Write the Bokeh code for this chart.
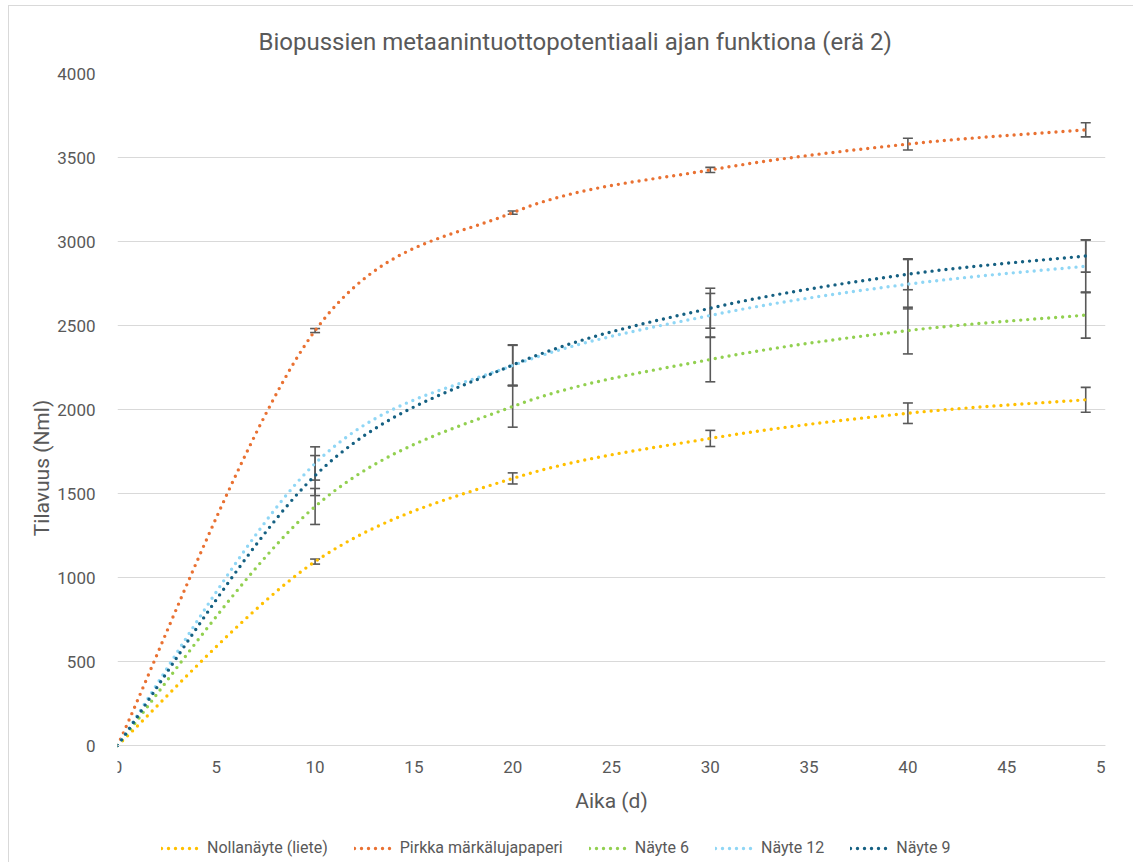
import numpy as np
from bokeh.plotting import figure
from bokeh.models import (ColumnDataSource, Whisker, TeeHead, Legend, LegendItem,
                          Title, FixedTicker, Range1d)
from bokeh.embed import file_html
from bokeh.resources import INLINE

# Measurement days
days = [0, 10, 20, 30, 40, 49]

# Cumulative methane volume (Nml) and standard deviations per sample
nolla = [0, 1095, 1590, 1828, 1978, 2058]
nolla_sd = [0, 15, 33, 48, 61, 74]

pirkka = [0, 2470, 3172, 3426, 3580, 3665]
pirkka_sd = [0, 12, 10, 15, 35, 42]

nayte6 = [0, 1423, 2018, 2298, 2470, 2562]
nayte6_sd = [0, 107, 123, 133, 139, 137]

nayte12 = [0, 1679, 2262, 2560, 2746, 2853]
nayte12_sd = [0, 99, 120, 131, 147, 157]

nayte9 = [0, 1607, 2265, 2603, 2805, 2914]
nayte9_sd = [0, 119, 120, 119, 92, 96]

series = [
    ("Nollanäyte (liete)", nolla, nolla_sd, "#FFC000"),
    ("Pirkka märkälujapaperi", pirkka, pirkka_sd, "#E97132"),
    ("Näyte 6", nayte6, nayte6_sd, "#92D050"),
    ("Näyte 12", nayte12, nayte12_sd, "#8FD6F5"),
    ("Näyte 9", nayte9, nayte9_sd, "#156082"),
]

TEXT = "#595959"
FONT = "Roboto"


def smooth(xs, ys, n=40):
    """Catmull-Rom style smoothed path through the points (like a smoothed line chart)."""
    pts = np.column_stack([xs, ys]).astype(float)
    out = []
    for i in range(len(pts) - 1):
        p0 = pts[i - 1] if i > 0 else pts[i]
        p1 = pts[i]
        p2 = pts[i + 1]
        p3 = pts[i + 2] if i + 2 < len(pts) else pts[i + 1]
        c1 = p1 + (p2 - p0) / 6.0
        c2 = p2 - (p3 - p1) / 6.0
        t = np.linspace(0, 1, n, endpoint=(i == len(pts) - 2))[:, None]
        seg = ((1 - t) ** 3) * p1 + 3 * ((1 - t) ** 2) * t * c1 + 3 * (1 - t) * t ** 2 * c2 + t ** 3 * p2
        out.append(seg)
    arr = np.vstack(out)
    return arr[:, 0], arr[:, 1]


# The frame reaches down to the legend row; the x axis sits at y = 0 inside it.
p = figure(frame_width=988, frame_height=789, output_backend="svg", toolbar_location=None,
           x_range=Range1d(0, 50), y_range=Range1d(-696, 4000),
           min_border_left=108, min_border_right=28, min_border_top=67, min_border_bottom=0)
p.margin = (5, 0, 0, 8)
p.styles = {"border-top": "1px solid #d9d9d9", "border-left": "1px solid #d9d9d9",
            "border-right": "1px solid #d9d9d9"}
p.outline_line_color = None
p.background_fill_color = "white"

p.add_layout(Title(text="Biopussien metaanintuottopotentiaali ajan funktiona (erä 2)",
                   align="left", offset=141, text_font=FONT, text_font_size="24px",
                   text_font_style="normal", text_color=TEXT, standoff=35), "above")

items = []
for name, ys, sd, color in series:
    sx, sy = smooth(days, ys)
    r = p.line(sx, sy, line_color=color, line_width=3.4, line_dash="0 7",
               line_cap="round")
    items.append(LegendItem(label=name, renderers=[r]))

for name, ys, sd, color in series:
    src = ColumnDataSource(dict(
        x=days[1:],
        lo=[v - s for v, s in zip(ys[1:], sd[1:])],
        hi=[v + s for v, s in zip(ys[1:], sd[1:])],
    ))
    w = Whisker(base="x", lower="lo", upper="hi", source=src,
                line_color="#595959", line_width=1.6,
                upper_head=TeeHead(size=10, line_color="#595959", line_width=1.6),
                lower_head=TeeHead(size=10, line_color="#595959", line_width=1.6))
    p.add_layout(w)

# Axes
p.xaxis.ticker = FixedTicker(ticks=list(range(0, 51, 5)))
p.yaxis.ticker = FixedTicker(ticks=list(range(0, 4001, 500)))
for ax in (p.xaxis, p.yaxis):
    ax.major_tick_line_color = None
    ax.minor_tick_line_color = None
    ax.major_label_text_font = FONT
    ax.major_label_text_font_size = "17px"
    ax.major_label_text_color = TEXT
    ax.axis_label_text_font = FONT
    ax.axis_label_text_font_size = "21px"
    ax.axis_label_text_font_style = "normal"
    ax.axis_label_text_color = TEXT
p.xaxis.fixed_location = 0
p.xaxis.axis_line_color = "#d9d9d9"
p.yaxis.axis_line_color = None
p.xaxis.axis_label = "Aika (d)"
p.yaxis.axis_label = "Tilavuus (Nml)"
p.xaxis.major_label_standoff = 9
p.xaxis.axis_label_standoff = 13
p.yaxis.major_label_standoff = 16
p.yaxis.axis_label_standoff = 0

p.xgrid.grid_line_color = None
p.ygrid.grid_line_color = "#d9d9d9"
p.ygrid.grid_line_width = 1

legend = Legend(items=items, orientation="horizontal", location=(44, 5),
                label_text_font=FONT, label_text_font_size="16px",
                label_text_color=TEXT, glyph_width=40, glyph_height=14,
                spacing=26, label_standoff=6, border_line_color=None,
                background_fill_alpha=0, margin=0, padding=0)
p.add_layout(legend, "center")

open("out.html", "w").write(file_html(p, INLINE))
